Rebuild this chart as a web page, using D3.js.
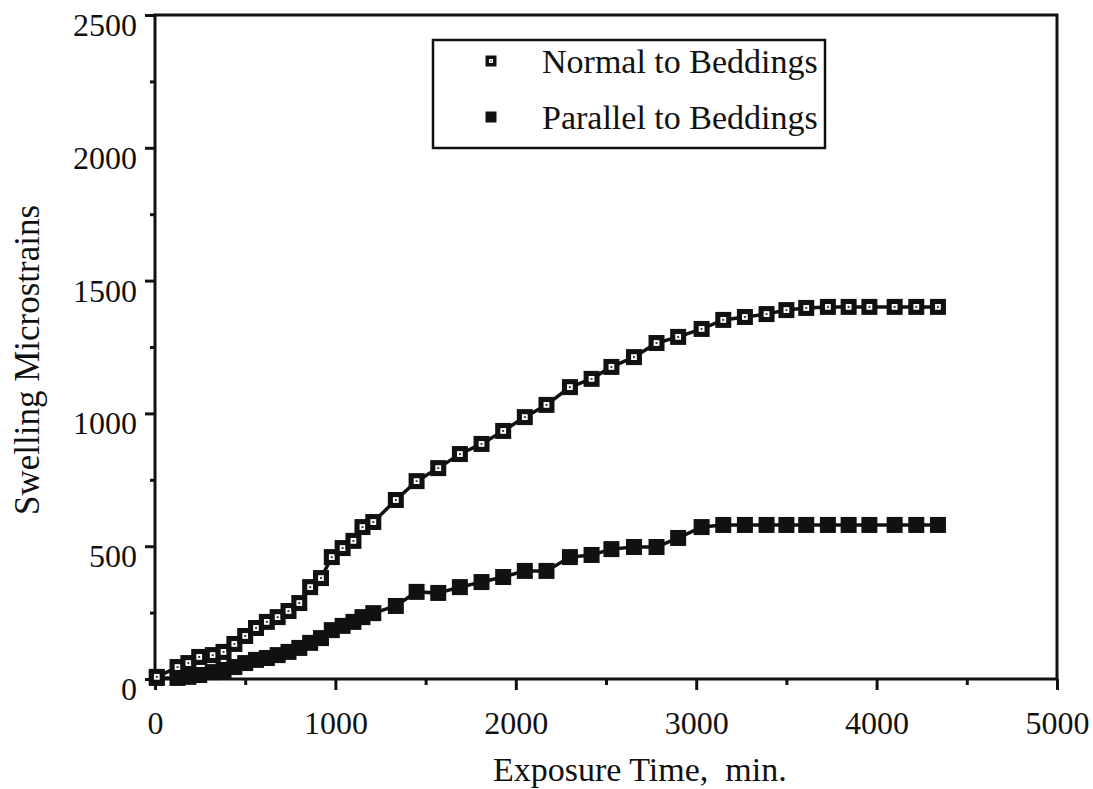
<!DOCTYPE html>
<html>
<head>
<meta charset="utf-8">
<script src="https://cdn.jsdelivr.net/npm/d3@7"></script>
<style>
  body { margin: 0; background: #fff; }
  svg text { font-family: "Liberation Serif", "Times New Roman", serif; fill: #111; }
</style>
</head>
<body>
<div id="chart"></div>
<script>
// exposure time (min) for every reading
var times = [10, 125, 185, 245, 320, 380, 440, 500, 560, 620,
             680, 740, 800, 860, 920, 980, 1040, 1100, 1150, 1210,
             1335, 1450, 1570, 1690, 1810, 1930, 2050, 2170, 2300, 2420,
             2530, 2655, 2780, 2900, 3030, 3150, 3270, 3390, 3500, 3610,
             3730, 3845, 3960, 4100, 4220, 4340];

// swelling microstrains
var normal = [8, 45, 60, 83, 90, 102, 132, 162, 192, 215,
              233, 256, 286, 346, 380, 459, 493, 520, 572, 591,
              674, 745, 794, 847, 885, 934, 986, 1032, 1099, 1130,
              1175, 1212, 1265, 1288, 1318, 1352, 1363, 1374, 1389, 1397,
              1401, 1401, 1401, 1401, 1401, 1401];

var parallel = [4, 4, 8, 15, 26, 34, 45, 60, 72, 79,
                90, 102, 117, 136, 154, 184, 200, 215, 233, 248,
                275, 328, 324, 346, 365, 384, 407, 407, 459, 467,
                489, 497, 497, 531, 572, 580, 580, 580, 580, 580,
                580, 580, 580, 580, 580, 580];

var seriesNames = ["Normal to Beddings", "Parallel to Beddings"];
var xMajor = [0, 1000, 2000, 3000, 4000, 5000];
var xMinor = [500, 1500, 2500, 3500, 4500];
var yMajor = [0, 500, 1000, 1500, 2000, 2500];
var yMinor = [250, 750, 1250, 1750, 2250];

var width = 1093;
var height = 789;
var margin = {left: 155, right: 36, top: 15, bottom: 110};

var svg = d3.select("#chart")
            .append("svg")
            .attr("width", width)
            .attr("height", height);

var x = d3.scaleLinear()
          .domain([0, 5000])
          .range([margin.left, width - margin.right]);
var y = d3.scaleLinear()
          .domain([0, 2500])
          .range([height - margin.bottom, margin.top]);

// frame
svg.append("rect")
   .attr("x", x(0))
   .attr("y", y(2500))
   .attr("width", x(5000) - x(0))
   .attr("height", y(0) - y(2500))
   .attr("fill", "none")
   .attr("stroke", "#111")
   .attr("stroke-width", 3);

// axes
function styleAxis(g) {
  g.select(".domain").remove();
  g.selectAll("line").attr("stroke", "#111").attr("stroke-width", 3);
  g.selectAll("text").attr("font-size", 32).attr("fill", "#111");
}

svg.append("g")
   .attr("transform", "translate(0," + y(0) + ")")
   .call(d3.axisBottom(x).tickValues(xMajor).tickSize(11).tickPadding(21).tickFormat(d3.format("d")))
   .call(styleAxis);
svg.append("g")
   .attr("transform", "translate(0," + y(0) + ")")
   .call(d3.axisBottom(x).tickValues(xMinor).tickSize(6).tickFormat(""))
   .call(styleAxis);

// y labels sit just below their tick, as in the original
svg.append("g")
   .attr("transform", "translate(" + x(0) + ",0)")
   .call(d3.axisLeft(y).tickValues(yMajor).tickSize(10).tickPadding(8).tickFormat(d3.format("d")))
   .call(styleAxis)
   .selectAll("text").attr("dy", "0.64em");
svg.append("g")
   .attr("transform", "translate(" + x(0) + ",0)")
   .call(d3.axisLeft(y).tickValues(yMinor).tickSize(5).tickFormat(""))
   .call(styleAxis);

// axis titles
svg.append("text")
   .attr("x", 493)
   .attr("y", 781)
   .attr("font-size", 34)
   .attr("xml:space", "preserve")
   .text("Exposure Time,  min.");

svg.append("text")
   .attr("transform", "translate(39,360) rotate(-90)")
   .attr("text-anchor", "middle")
   .attr("font-size", 35)
   .text("Swelling Microstrains");

// lines
var line = d3.line()
             .x(function(d) {return x(d[0]);})
             .y(function(d) {return y(d[1]);});

var normalPts = times.map(function(t, i) {return [t, normal[i]];});
var parallelPts = times.map(function(t, i) {return [t, parallel[i]];});

[normalPts, parallelPts].forEach(function(pts) {
  svg.append("path")
     .datum(pts)
     .attr("d", line)
     .attr("fill", "none")
     .attr("stroke", "#111")
     .attr("stroke-width", 3.5);
});

// markers
function openMarker(g, s) {
  g.append("rect").attr("x", -s / 2).attr("y", -s / 2).attr("width", s).attr("height", s).attr("fill", "#111");
  g.append("rect").attr("x", -s * 0.18).attr("y", -s * 0.18).attr("width", s * 0.36).attr("height", s * 0.36).attr("fill", "#fff");
  g.append("rect").attr("x", -s * 0.06).attr("y", -s * 0.06).attr("width", s * 0.12).attr("height", s * 0.12).attr("fill", "#333");
}
function filledMarker(g, s) {
  g.append("rect").attr("x", -s / 2).attr("y", -s / 2).attr("width", s).attr("height", s).attr("fill", "#111");
}

svg.selectAll("g.pt-parallel")
   .data(parallelPts)
   .enter()
   .append("g")
   .attr("class", "pt-parallel")
   .attr("transform", function(d) {return "translate(" + x(d[0]) + "," + y(d[1]) + ")";})
   .each(function() {filledMarker(d3.select(this), 16);});

svg.selectAll("g.pt-normal")
   .data(normalPts)
   .enter()
   .append("g")
   .attr("class", "pt-normal")
   .attr("transform", function(d) {return "translate(" + x(d[0]) + "," + y(d[1]) + ")";})
   .each(function() {openMarker(d3.select(this), 16);});

// legend
var legend = svg.append("g");
legend.append("rect")
      .attr("x", 433).attr("y", 40)
      .attr("width", 392).attr("height", 108)
      .attr("fill", "#fff")
      .attr("stroke", "#111")
      .attr("stroke-width", 2.5);

seriesNames.forEach(function(name, i) {
  var cy = 61 + i * 56;
  var m = legend.append("g").attr("transform", "translate(491," + cy + ")");
  if (i === 0) openMarker(m, 11); else filledMarker(m, 11);
  legend.append("text")
        .attr("x", 542)
        .attr("y", cy + 12)
        .attr("font-size", 34)
        .text(name);
});
</script>
</body>
</html>
